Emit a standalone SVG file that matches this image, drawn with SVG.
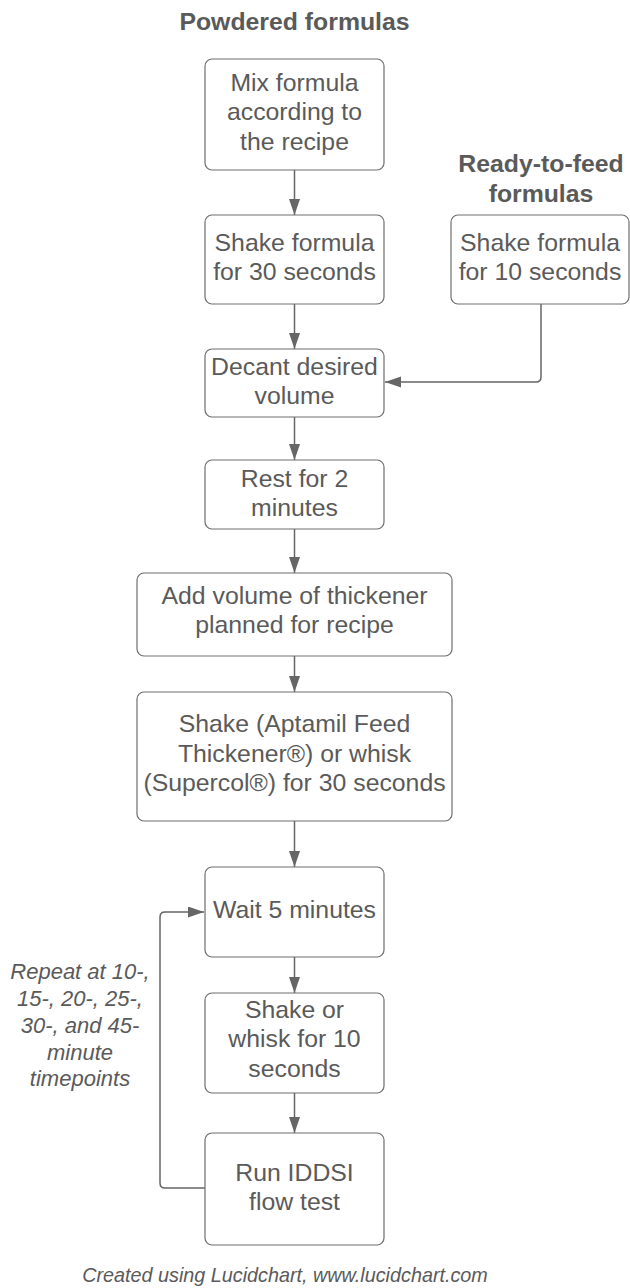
<svg xmlns="http://www.w3.org/2000/svg" width="630" height="1288" viewBox="0 0 630 1288">
  <style>
    .box { fill: #ffffff; stroke: #6e6e6e; stroke-width: 1.2; }
    .t { font-family: "Liberation Sans", Arial, sans-serif; font-size: 24.8px; fill: #5a5a5a; text-anchor: middle; }
    .title { font-family: "Liberation Sans", Arial, sans-serif; font-size: 24.8px; font-weight: bold; fill: #5a5a5a; text-anchor: middle; }
    .note { font-family: "Liberation Sans", Arial, sans-serif; font-size: 22px; font-style: italic; fill: #5a5a5a; text-anchor: middle; }
    .foot { font-family: "Liberation Sans", Arial, sans-serif; font-size: 19.8px; font-style: italic; fill: #5a5a5a; text-anchor: middle; }
    .conn { fill: none; stroke: #666666; stroke-width: 1.5; marker-end: url(#arr); }
  </style>
  <defs>
    <marker id="arr" markerUnits="userSpaceOnUse" markerWidth="17" markerHeight="12" refX="16" refY="5.5" orient="auto">
      <path d="M0,0 L16,5.5 L0,11 Z" fill="#666666"/>
    </marker>
  </defs>
  <rect width="630" height="1288" fill="#ffffff"/>

  <text class="title" x="294.5" y="30">Powdered formulas</text>
  <text class="title" x="541" y="172">Ready-to-feed</text>
  <text class="title" x="541" y="202">formulas</text>

  <g id="connectors">
    <path class="conn" d="M294.5,170 L294.5,215"/>
    <path class="conn" d="M294.5,304 L294.5,349"/>
    <path class="conn" d="M294.5,417 L294.5,460"/>
    <path class="conn" d="M294.5,529 L294.5,573"/>
    <path class="conn" d="M294.5,656 L294.5,692"/>
    <path class="conn" d="M294.5,821 L294.5,867"/>
    <path class="conn" d="M294.5,957 L294.5,993"/>
    <path class="conn" d="M294.5,1093 L294.5,1133"/>
    <path class="conn" d="M541,304 L541,377 Q541,382 536,382 L385,382"/>
    <path class="conn" d="M205,1188 L165,1188 Q160,1188 160,1183 L160,917 Q160,912 165,912 L204,912"/>
  </g>

  <g id="n1">
    <rect class="box" x="205" y="59" width="179" height="111" rx="7"/>
    <text class="t" x="294.5" y="90.5">Mix formula</text>
    <text class="t" x="294.5" y="120">according to</text>
    <text class="t" x="294.5" y="149.5">the recipe</text>
  </g>
  <g id="n2">
    <rect class="box" x="205" y="215" width="179" height="89" rx="7"/>
    <text class="t" x="294.5" y="250.5">Shake formula</text>
    <text class="t" x="294.5" y="280">for 30 seconds</text>
  </g>
  <g id="r1">
    <rect class="box" x="451" y="215" width="178" height="89" rx="7"/>
    <text class="t" x="540" y="250.5">Shake formula</text>
    <text class="t" x="540" y="280">for 10 seconds</text>
  </g>
  <g id="n3">
    <rect class="box" x="205" y="349" width="179" height="68" rx="7"/>
    <text class="t" x="294.5" y="374.5">Decant desired</text>
    <text class="t" x="294.5" y="403.5">volume</text>
  </g>
  <g id="n4">
    <rect class="box" x="205" y="460" width="179" height="69" rx="7"/>
    <text class="t" x="294.5" y="486.5">Rest for 2</text>
    <text class="t" x="294.5" y="515.5">minutes</text>
  </g>
  <g id="n5">
    <rect class="box" x="137" y="573" width="315" height="83" rx="7"/>
    <text class="t" x="294.5" y="603.5">Add volume of thickener</text>
    <text class="t" x="294.5" y="633">planned for recipe</text>
  </g>
  <g id="n6">
    <rect class="box" x="137" y="692" width="315" height="129" rx="7"/>
    <text class="t" x="294.5" y="732">Shake (Aptamil Feed</text>
    <text class="t" x="294.5" y="761.5">Thickener®) or whisk</text>
    <text class="t" x="294.5" y="791">(Supercol®) for 30 seconds</text>
  </g>
  <g id="n7">
    <rect class="box" x="205" y="867" width="179" height="90" rx="7"/>
    <text class="t" x="294.5" y="917.5">Wait 5 minutes</text>
  </g>
  <g id="n8">
    <rect class="box" x="205" y="993" width="179" height="100" rx="7"/>
    <text class="t" x="294.5" y="1017.5">Shake or</text>
    <text class="t" x="294.5" y="1047">whisk for 10</text>
    <text class="t" x="294.5" y="1076.5">seconds</text>
  </g>
  <g id="n9">
    <rect class="box" x="205" y="1133" width="179" height="112" rx="7"/>
    <text class="t" x="294.5" y="1180.5">Run IDDSI</text>
    <text class="t" x="294.5" y="1210">flow test</text>
  </g>

  <g id="repeat-note">
    <text class="note" x="80" y="979">Repeat at 10-,</text>
    <text class="note" x="80" y="1006">15-, 20-, 25-,</text>
    <text class="note" x="80" y="1033">30-, and 45-</text>
    <text class="note" x="80" y="1060">minute</text>
    <text class="note" x="80" y="1086">timepoints</text>
  </g>

  <text class="foot" x="285" y="1282">Created using Lucidchart, www.lucidchart.com</text>
</svg>
